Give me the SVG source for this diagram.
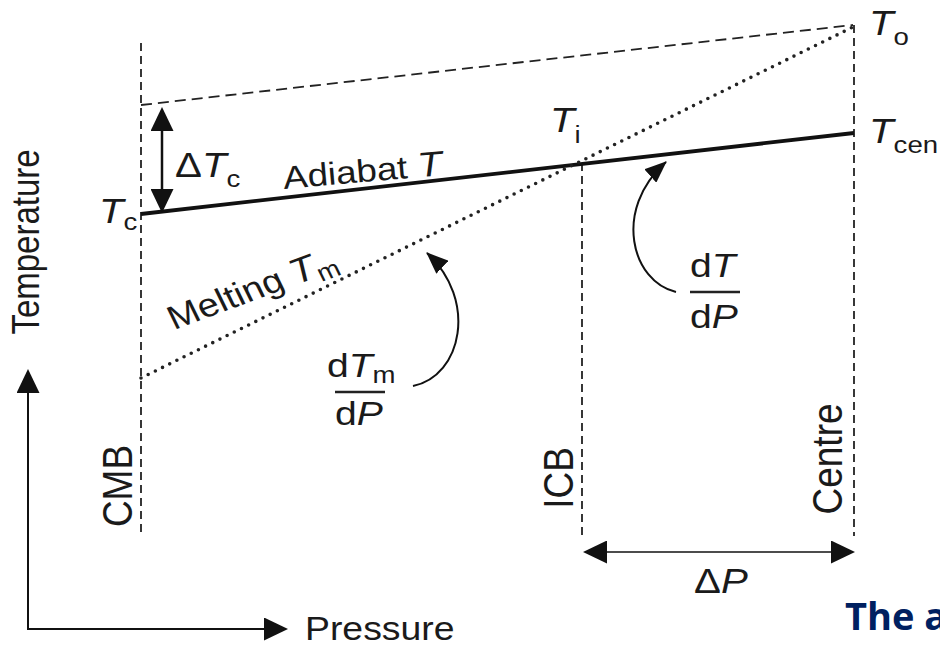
<svg xmlns="http://www.w3.org/2000/svg" width="940" height="648" viewBox="0 0 940 648">
<defs>
<style>
text{font-family:"Liberation Sans",Arial,Helvetica,sans-serif;fill:#1a1a1a}
.it{font-style:italic}
.dash{fill:none;stroke:#222;stroke-width:1.8;stroke-dasharray:8 5}
.dashTop{fill:none;stroke:#222;stroke-width:1.8;stroke-dasharray:11 6}
.dot{fill:none;stroke:#222;stroke-width:3.6;stroke-linecap:round;stroke-dasharray:0 8}
.thick{fill:none;stroke:#111;stroke-width:3.8}
.arr{fill:none;stroke:#111}
.bar{stroke:#222;stroke-width:2.5}
</style>
<marker id="tri" markerUnits="userSpaceOnUse" viewBox="0 0 24 23" markerWidth="24" markerHeight="23" refX="4" refY="11.5" orient="auto-start-reverse"><path d="M0,0 L24,11.5 L0,23 Z" fill="#111"/></marker>
<marker id="tri2" markerUnits="userSpaceOnUse" viewBox="0 0 22 18" markerWidth="22" markerHeight="18" refX="21" refY="9" orient="auto"><path d="M0,0 L22,9 L0,18 Z" fill="#111"/></marker>
</defs>
<rect width="940" height="648" fill="#fff"/>

<g id="guides">
<path class="dash" d="M141,43 V533"/>
<path class="dashTop" d="M141,105 L853,25"/>
<path class="dash" d="M854,25 V536"/>
<path class="dash" d="M582,163 V537"/>
</g>

<g id="curves">
<path id="adiabat" class="thick" d="M141,214 L854,133"/>
<path id="melting" class="dot" d="M141,378 L853,27"/>
</g>

<g id="connectors">
<path class="arr" stroke-width="2.5" d="M162,127 V193" marker-start="url(#tri)" marker-end="url(#tri)"/>
<path class="arr" stroke-width="2" d="M28,389 V629 H268" marker-start="url(#tri)" marker-end="url(#tri)"/>
<path class="arr" stroke-width="1.3" d="M603,552 H835" marker-start="url(#tri)" marker-end="url(#tri)"/>
<path class="arr" stroke-width="2" d="M413,386 C462,376 478,300 427,253" marker-end="url(#tri2)"/>
<path class="arr" stroke-width="2" d="M676,292 C632,282 612,210 666,162" marker-end="url(#tri2)"/>
</g>

<g id="axis-labels">
<text transform="translate(39,242) scale(1.15,1) rotate(-90)" font-size="33" text-anchor="middle">Temperature</text>
<text transform="translate(305,640) scale(1.15,1)" font-size="32.5">Pressure</text>
</g>

<g id="boundary-labels">
<text transform="translate(132,486) scale(1.15,1) rotate(-90)" font-size="37" text-anchor="middle">CMB</text>
<text transform="translate(573,478) scale(1.15,1) rotate(-90)" font-size="37" text-anchor="middle">ICB</text>
<text transform="translate(842,459) scale(1.15,1) rotate(-90)" font-size="37" text-anchor="middle">Centre</text>
</g>

<g id="temp-labels">
<text transform="translate(99,223) scale(1.15,1)" font-size="35"><tspan class="it">T</tspan><tspan font-size="24" dy="7">c</tspan></text>
<text transform="translate(175,177) scale(1.15,1)" font-size="35">Δ<tspan class="it">T</tspan><tspan font-size="24" dy="10">c</tspan></text>
<text transform="translate(550,132) scale(1.15,1)" font-size="35"><tspan class="it">T</tspan><tspan font-size="24" dy="11">i</tspan></text>
<text transform="translate(869,35) scale(1.15,1)" font-size="35"><tspan class="it">T</tspan><tspan font-size="24" dy="10">o</tspan></text>
<text transform="translate(869,143) scale(1.15,1)" font-size="35"><tspan class="it">T</tspan><tspan font-size="24" dy="10">cen</tspan></text>
</g>

<g id="line-labels">
<text transform="translate(284,189) rotate(-5) scale(1.15,1)" font-size="32">Adiabat <tspan class="it" font-size="35">T</tspan></text>
<text transform="translate(174,330) scale(1.15,1) rotate(-23)" font-size="33">Melting <tspan class="it" font-size="35">T</tspan><tspan font-size="24" dy="6">m</tspan></text>
</g>

<g id="gradient-labels">
<text transform="translate(327,377) scale(1.15,1)" font-size="34">d<tspan class="it">T</tspan><tspan font-size="24" dy="6">m</tspan></text>
<line class="bar" x1="335" y1="392" x2="385" y2="392"/>
<text transform="translate(335,425) scale(1.15,1)" font-size="34">d<tspan class="it">P</tspan></text>
<text transform="translate(690,277) scale(1.15,1)" font-size="34">d<tspan class="it">T</tspan></text>
<line class="bar" x1="690" y1="292" x2="740" y2="292"/>
<text transform="translate(690,328) scale(1.15,1)" font-size="34">d<tspan class="it">P</tspan></text>
<text transform="translate(694,593) scale(1.15,1)" font-size="35">Δ<tspan class="it">P</tspan></text>
</g>

<text x="845" y="630" font-family="'Open Sans',sans-serif" font-weight="700" font-size="38" style="fill:#002060;font-family:'Open Sans',sans-serif">The a</text>
</svg>
